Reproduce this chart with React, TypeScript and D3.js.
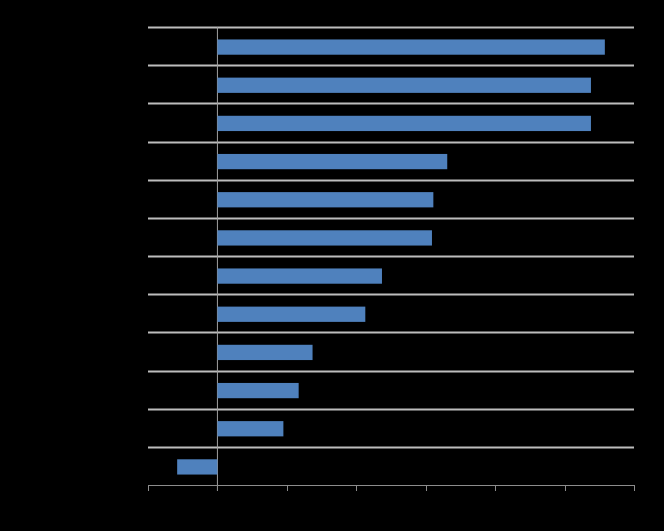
import React from "react";
import * as d3 from "d3";

const categories = ["A", "B", "C", "D", "E", "F", "G", "H", "I", "J", "K", "L"];
const values = [5.58, 5.38, 5.38, 3.31, 3.11, 3.09, 2.37, 2.13, 1.37, 1.17, 0.95, -0.58];
const xTicks = [-1, 0, 1, 2, 3, 4, 5, 6];

export default function App() {
  const W = 664, H = 531;
  const left = 148, right = 634, top = 27, bottom = 485;
  const x = d3.scaleLinear().domain([-1, 6]).range([left, right]);
  const y = d3.scaleBand<string>().domain(categories).range([top + 1, bottom + 1]).paddingInner(0.6).paddingOuter(0.3);
  const step = (bottom - top) / categories.length;
  const seps = d3.range(categories.length).map((i) => top + i * step);

  return (
    <svg width={W} height={H} style={{ position: "absolute", left: 0, top: 0, display: "block", background: "#000" }}>
      <rect x={0} y={0} width={W} height={H} fill="#000" />
      {seps.map((s, i) => (
        <line key={i} x1={left} x2={right} y1={Math.round(s) + 0.5} y2={Math.round(s) + 0.5} stroke="#bdbdbd" strokeWidth={2} />
      ))}
      <line x1={x(0)} x2={x(0)} y1={top} y2={bottom + 6} stroke="#a0a0a0" strokeWidth={1} />
      {categories.map((c, i) => {
        const v = values[i];
        return (
          <rect key={c} x={x(Math.min(0, v))} y={y(c)} width={Math.abs(x(v) - x(0))} height={y.bandwidth()} fill="#4f81bd" />
        );
      })}
      <line x1={left} x2={right} y1={bottom + 0.5} y2={bottom + 0.5} stroke="#8c8c8c" strokeWidth={1} />
      {xTicks.map((t) => (
        <line key={t} x1={Math.round(x(t)) + 0.5} x2={Math.round(x(t)) + 0.5} y1={bottom} y2={bottom + 6} stroke="#8c8c8c" strokeWidth={1} />
      ))}
    </svg>
  );
}
